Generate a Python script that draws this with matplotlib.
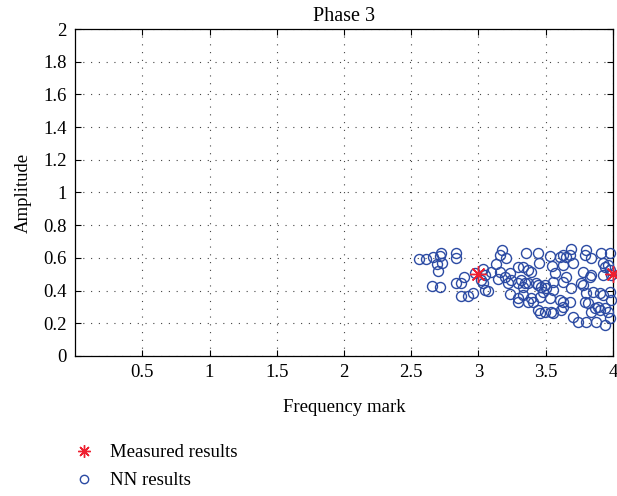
import matplotlib
matplotlib.use("Agg")
import matplotlib.pyplot as plt
from matplotlib.lines import Line2D

plt.rcParams.update({
    "font.family": ["Liberation Serif", "DejaVu Serif"],
    "font.size": 13.5,
    "xtick.direction": "in",
    "ytick.direction": "in",
    "xtick.top": True,
    "ytick.right": True,
})

# ─── data ─────────────────────────────────────────────────────────────────────
measured_x = [3.0, 4.0]
measured_y = [0.50, 0.50]

nn_x = [2.558, 2.613, 2.662, 2.692, 2.724, 2.717, 2.732, 2.699, 2.836, 2.831,
        2.655, 2.712, 2.831, 2.868, 2.892, 2.870, 2.920, 2.959, 2.972, 3.033,
        3.046, 3.022, 3.033, 3.046, 3.071, 3.096, 3.133, 3.158, 3.178, 3.158,
        3.145, 3.195, 3.207, 3.232, 3.244, 3.219, 3.232, 3.293, 3.293, 3.293,
        3.351, 3.442, 3.450, 3.534, 3.549, 3.603, 3.628, 3.653, 3.690, 3.678,
        3.628, 3.702, 3.801, 3.789, 3.839, 3.913, 3.975, 3.925, 3.938, 3.962,
        3.975, 3.925, 3.987, 3.777, 3.826, 3.839, 3.764, 3.777, 3.690, 3.653,
        3.628, 3.566, 3.554, 3.331, 3.368, 3.393, 3.318, 3.343, 3.331, 3.368,
        3.430, 3.442, 3.467, 3.492, 3.504, 3.479, 3.554, 3.529, 3.455, 3.393,
        3.368, 3.405, 3.331, 3.603, 3.628, 3.678, 3.801, 3.851, 3.900, 3.925,
        3.975, 3.987, 3.789, 3.814, 3.863, 3.900, 3.888, 3.938, 3.962, 3.839,
        3.442, 3.455, 3.492, 3.541, 3.554, 3.616, 3.628, 3.702, 3.739, 3.801,
        3.876, 3.938, 3.975, 3.293]
nn_y = [0.591, 0.591, 0.604, 0.563, 0.628, 0.612, 0.571, 0.522, 0.628, 0.598,
        0.430, 0.424, 0.445, 0.448, 0.485, 0.367, 0.369, 0.383, 0.506, 0.530,
        0.495, 0.465, 0.445, 0.404, 0.399, 0.512, 0.563, 0.618, 0.648, 0.516,
        0.469, 0.481, 0.598, 0.506, 0.465, 0.445, 0.379, 0.546, 0.445, 0.332,
        0.632, 0.632, 0.571, 0.612, 0.550, 0.603, 0.618, 0.608, 0.652, 0.618,
        0.557, 0.567, 0.648, 0.618, 0.597, 0.628, 0.632, 0.567, 0.546, 0.557,
        0.526, 0.495, 0.495, 0.516, 0.485, 0.495, 0.444, 0.434, 0.414, 0.485,
        0.455, 0.506, 0.455, 0.546, 0.526, 0.516, 0.465, 0.444, 0.424, 0.444,
        0.444, 0.434, 0.424, 0.434, 0.414, 0.393, 0.404, 0.353, 0.363, 0.353,
        0.332, 0.332, 0.373, 0.343, 0.332, 0.332, 0.383, 0.393, 0.383, 0.373,
        0.393, 0.343, 0.332, 0.322, 0.292, 0.281, 0.302, 0.292, 0.271, 0.271,
        0.281, 0.261, 0.271, 0.271, 0.261, 0.281, 0.302, 0.241, 0.210, 0.210,
        0.210, 0.190, 0.230, 0.353]

x_ticks = [0.5, 1, 1.5, 2, 2.5, 3, 3.5, 4]
x_labels = ["0.5", "1", "1.5", "2", "2.5", "3", "3.5", "4"]
y_ticks = [0, 0.2, 0.4, 0.6, 0.8, 1, 1.2, 1.4, 1.6, 1.8, 2]
y_labels = ["0", "0.2", "0.4", "0.6", "0.8", "1", "1.2", "1.4", "1.6", "1.8", "2"]

BLUE = "#2b4aa3"
RED = "#ee2030"
ASTERISK = (8, 2, 0)

fig = plt.figure(figsize=(6.17, 4.96), dpi=100)
ax = fig.add_axes([0.1216, 0.2823, 0.8719, 0.6592])

ax.plot(nn_x, nn_y, linestyle="none", marker="o", markersize=7.2,
        markerfacecolor="none", markeredgecolor=BLUE, markeredgewidth=1.0,
        zorder=3, clip_on=False)
ax.plot(measured_x, measured_y, linestyle="none", marker=ASTERISK, markersize=12,
        color=RED, markeredgewidth=1.0, zorder=4, clip_on=False)

ax.set_xlim(0, 4)
ax.set_ylim(0, 2)
ax.set_xticks(x_ticks)
ax.set_xticklabels(x_labels)
ax.set_yticks(y_ticks)
ax.set_yticklabels(y_labels)
ax.tick_params(length=4, width=0.8, pad=6)
ax.grid(True, color="#444444", linestyle=(0, (1, 6)), linewidth=0.8)
for s in ax.spines.values():
    s.set_linewidth(0.9)

ax.set_title("Phase 3", fontsize=14.5, pad=6)
ax.set_xlabel("Frequency mark", labelpad=13)
ax.set_ylabel("Amplitude", labelpad=8)

handles = [
    Line2D([0], [0], linestyle="none", marker=ASTERISK, markersize=9, color=RED,
           markeredgewidth=1.0, label="Measured results"),
    Line2D([0], [0], linestyle="none", marker="o", markersize=6,
           markerfacecolor="none", markeredgecolor=BLUE, markeredgewidth=1.0,
           label="NN results"),
]
fig.legend(handles=handles, loc="upper left", bbox_to_anchor=(0.105, 0.12),
           bbox_transform=fig.transFigure, frameon=False, fontsize=13.5,
           handlelength=1.2, handletextpad=0.8, labelspacing=0.6,
           borderaxespad=0)

fig.savefig("out.png", dpi=100)
